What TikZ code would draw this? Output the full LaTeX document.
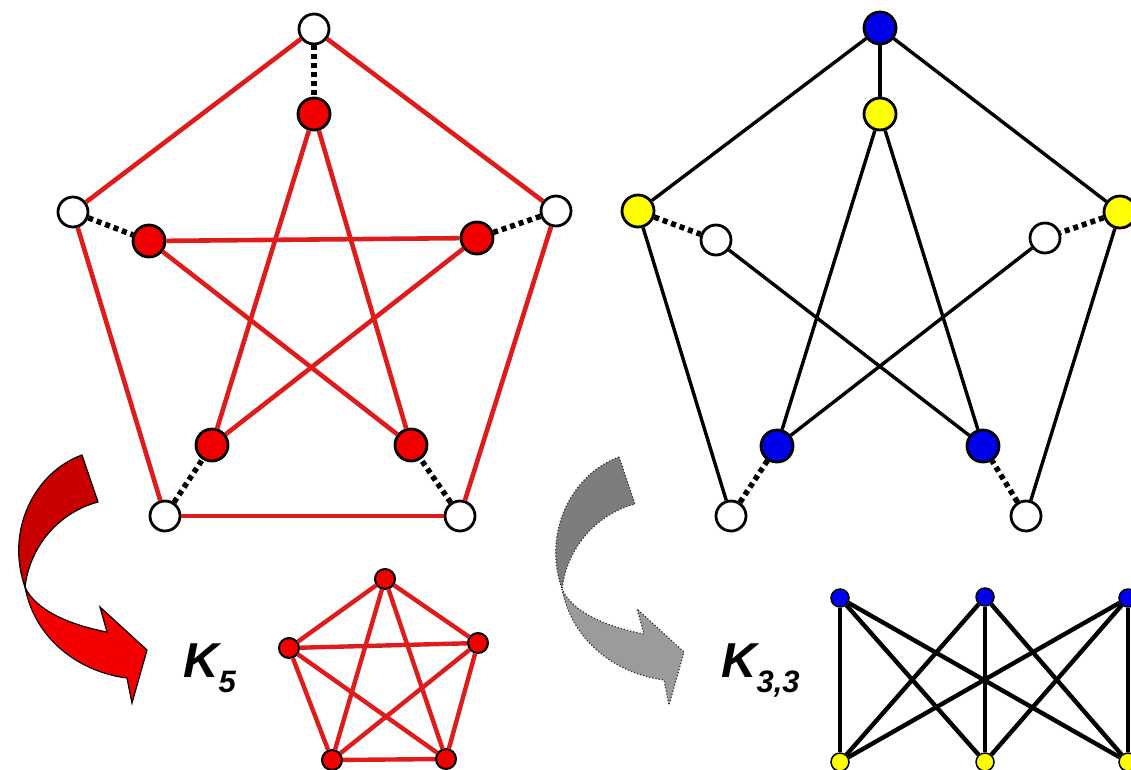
\documentclass[tikz,border=0pt]{standalone}
\usepackage{fontspec}
\setmainfont{Liberation Sans}
\definecolor{nodered}{RGB}{240,0,0}
\definecolor{edgered}{RGB}{222,28,28}
\definecolor{nodeblue}{RGB}{0,0,235}
\definecolor{nodeyellow}{RGB}{255,255,0}
\definecolor{arrdark}{RGB}{200,0,0}
\definecolor{arrlight}{RGB}{245,0,0}
\definecolor{graydark}{RGB}{125,125,125}
\definecolor{graylight}{RGB}{155,155,155}
\begin{document}
\begin{tikzpicture}[x=1pt,y=-1pt,
  wn/.style={circle,draw=black,line width=2.8pt,fill=white,minimum size=30pt,inner sep=0pt},
  rn/.style={wn,fill=nodered,minimum size=32pt},
  bn/.style={wn,fill=nodeblue,minimum size=32pt},
  yn/.style={wn,fill=nodeyellow,minimum size=32pt},
  srn/.style={circle,draw=black,line width=2pt,fill=nodered,minimum size=20pt,inner sep=0pt},
  sbn/.style={circle,draw=black,line width=1.5pt,fill=nodeblue,minimum size=18pt,inner sep=0pt},
  syn/.style={circle,draw=black,line width=1.5pt,fill=nodeyellow,minimum size=18pt,inner sep=0pt},
  redge/.style={draw=edgered,line width=4.6pt},
  bedge/.style={draw=black,line width=3.4pt},
  dotedge/.style={draw=black,line width=5.5pt,dash pattern=on 5pt off 4pt},
  sredge/.style={draw=edgered,line width=4.4pt},
  sbedge/.style={draw=black,line width=4.4pt},
  lbl/.style={inner sep=0pt,anchor=base west,font=\bfseries\itshape}
]
\useasboundingbox (0,0) rectangle (1131,769);
\clip (0,0) rectangle (1131,769);

% ---- curved arrows ----
\begin{scope}
  \filldraw[fill=arrdark,draw=black,line width=1.2pt]
    (82,455) -- (98,502) .. controls (60,512) and (30,545) .. (25,587)
    .. controls (5,530) and (35,472) .. (82,455) -- cycle;
  \filldraw[fill=arrlight,draw=black,line width=1.2pt]
    (25,587) .. controls (35,640) and (80,672) .. (127,678) -- (132,703) -- (147,650)
    -- (100,607) -- (107,632) .. controls (70,625) and (35,610) .. (25,587) -- cycle;
\end{scope}
\begin{scope}[shift={(537,2)}]
  \filldraw[fill=graydark,draw=black!80,line width=1.2pt,dotted]
    (82,455) -- (98,502) .. controls (60,512) and (30,545) .. (25,587)
    .. controls (5,530) and (35,472) .. (82,455) -- cycle;
  \filldraw[fill=graylight,draw=black!80,line width=1.2pt,dotted]
    (25,587) .. controls (35,640) and (80,672) .. (127,678) -- (132,703) -- (147,650)
    -- (100,607) -- (107,632) .. controls (70,625) and (35,610) .. (25,587) -- cycle;
\end{scope}

% ---- left graph (red) ----
\node[wn] (o1) at (314,29) {};
\node[wn] (o2) at (73,212) {};
\node[wn] (o3) at (556,211) {};
\node[wn] (o4) at (165,516) {};
\node[wn] (o5) at (460,516) {};
\node[rn] (i1) at (314,114) {};
\node[rn] (i2) at (149,241) {};
\node[rn] (i3) at (477,238) {};
\node[rn] (i4) at (212,445) {};
\node[rn] (i5) at (411,445) {};
\draw[redge] (o1) -- (o2);
\draw[redge] (o1) -- (o3);
\draw[redge] (o2) -- (o4);
\draw[redge] (o3) -- (o5);
\draw[redge] (o4) -- (o5);
\draw[redge] (i1) -- (i4);
\draw[redge] (i1) -- (i5);
\draw[redge] (i2) -- (i3);
\draw[redge] (i2) -- (i5);
\draw[redge] (i3) -- (i4);
\draw[dotedge] (o1) -- (i1);
\draw[dotedge] (o2) -- (i2);
\draw[dotedge] (o3) -- (i3);
\draw[dotedge] (o4) -- (i4);
\draw[dotedge] (o5) -- (i5);

% ---- right graph (black) ----
\node[bn] (p1) at (880,28) {};
\node[yn] (p2) at (638,211) {};
\node[yn] (p3) at (1120,212) {};
\node[wn] (p4) at (731,516) {};
\node[wn] (p5) at (1026,516) {};
\node[yn] (q1) at (880,114) {};
\node[wn] (q2) at (716,240) {};
\node[wn] (q3) at (1045,238) {};
\node[bn] (q4) at (777,446) {};
\node[bn] (q5) at (983,446) {};
\draw[bedge] (p1) -- (p2);
\draw[bedge] (p1) -- (p3);
\draw[bedge] (p1) -- (q1);
\draw[bedge] (p2) -- (p4);
\draw[bedge] (p3) -- (p5);
\draw[bedge] (q1) -- (q4);
\draw[bedge] (q1) -- (q5);
\draw[bedge] (q2) -- (q5);
\draw[bedge] (q3) -- (q4);
\draw[dotedge] (p2) -- (q2);
\draw[dotedge] (p3) -- (q3);
\draw[dotedge] (p4) -- (q4);
\draw[dotedge] (p5) -- (q5);

% ---- K5 ----
\node[lbl] (k5label) at (183,677) {\fontsize{49}{49}\selectfont K\raisebox{-15pt}{\fontsize{31}{31}\selectfont 5}};
\node[srn] (a1) at (385,579) {};
\node[srn] (a2) at (289,648) {};
\node[srn] (a3) at (478,643) {};
\node[srn] (a4) at (332,760) {};
\node[srn] (a5) at (446,759) {};
\foreach \u/\v in {a1/a2,a1/a3,a1/a4,a1/a5,a2/a3,a2/a4,a2/a5,a3/a4,a3/a5,a4/a5}
  \draw[sredge] (\u) -- (\v);

% ---- K3,3 ----
\node[lbl] (k33label) at (721,677) {\fontsize{49}{49}\selectfont K\raisebox{-15pt}{\fontsize{31}{31}\selectfont 3,3}};
\node[sbn] (b1) at (840,598) {};
\node[sbn] (b2) at (985,597) {};
\node[sbn] (b3) at (1128,598) {};
\node[syn] (c1) at (840,762) {};
\node[syn] (c2) at (985,762) {};
\node[syn] (c3) at (1128,762) {};
\foreach \u in {b1,b2,b3}
  \foreach \v in {c1,c2,c3}
    \draw[sbedge] (\u) -- (\v);
\end{tikzpicture}
\end{document}
